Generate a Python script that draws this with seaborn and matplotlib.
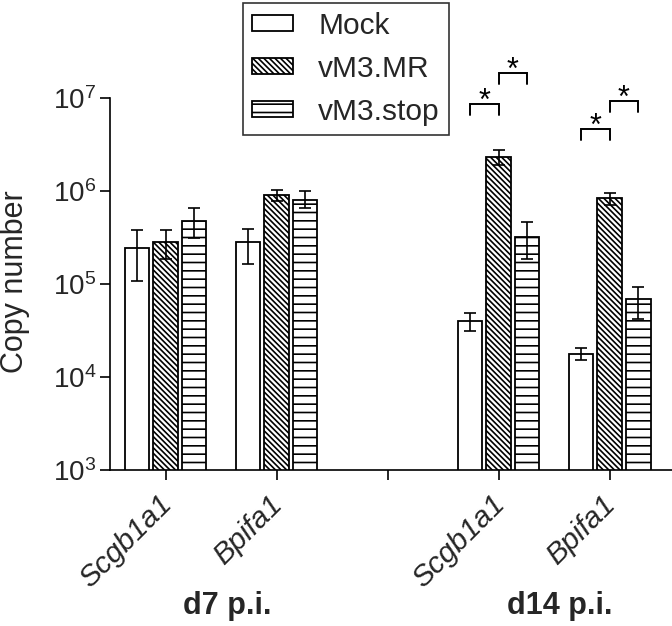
import numpy as np
import pandas as pd
import matplotlib
matplotlib.use("Agg")
import matplotlib.pyplot as plt
import matplotlib.transforms as mtransforms
from matplotlib.container import BarContainer
import seaborn as sns

# ---------------- data ----------------
categories = ["d7_Scgb1a1", "d7_Bpifa1", "gap", "d14_Scgb1a1", "d14_Bpifa1"]
tick_labels = ["Scgb1a1", "Bpifa1", "", "Scgb1a1", "Bpifa1"]
data_cats = ["d7_Scgb1a1", "d7_Bpifa1", "d14_Scgb1a1", "d14_Bpifa1"]
groups = ["Mock", "vM3.MR", "vM3.stop"]

mock = [2.44e5, 2.8e5, 4.0e4, 1.77e4]
mock_lo = [1.07e5, 1.64e5, 3.1e4, 1.52e4]
mock_hi = [3.8e5, 3.9e5, 4.9e4, 2.05e4]

mr = [2.8e5, 9.06e5, 2.32e6, 8.4e5]
mr_lo = [1.87e5, 7.9e5, 1.9e6, 7.1e5]
mr_hi = [3.8e5, 1.02e6, 2.75e6, 9.5e5]

stop = [4.8e5, 8.1e5, 3.2e5, 6.9e4]
stop_lo = [3.1e5, 6.6e5, 1.87e5, 4.2e4]
stop_hi = [6.5e5, 1.0e6, 4.6e5, 9.3e4]

# significance brackets: (category, from group, to group, leg value, top value)
bracket_cats = ["d14_Scgb1a1", "d14_Scgb1a1", "d14_Bpifa1", "d14_Bpifa1"]
bracket_from = ["Mock", "vM3.MR", "Mock", "vM3.MR"]
bracket_to = ["vM3.MR", "vM3.stop", "vM3.MR", "vM3.stop"]
bracket_leg = [6.56e6, 1.41e7, 3.53e6, 7.08e6]
bracket_top = [8.6e6, 1.86e7, 4.65e6, 9.3e6]

group_labels = ["d7 p.i.", "d14 p.i."]
group_centers = [0.56, 3.55]

# ---------------- style ----------------
sns.set_theme(style="ticks")
plt.rcParams["font.family"] = ["Liberation Sans", "DejaVu Sans"]
plt.rcParams["hatch.linewidth"] = 1.2
plt.rcParams["hatch.color"] = "black"

FS = 21.5

df = pd.DataFrame({
    "cat": data_cats * 3,
    "group": np.repeat(groups, 4),
    "value": mock + mr + stop,
})

fig = plt.figure(figsize=(6.72, 6.26), dpi=100)
ax = fig.add_axes([110 / 672, 1 - 470 / 626, 1 - 110 / 672, 470 / 626])
ax.set_yscale("log")

sns.barplot(data=df, x="cat", y="value", hue="group", order=categories,
            hue_order=groups, errorbar=None, width=0.783, gap=0.17,
            palette=["white"] * 3, edgecolor="black", linewidth=1.3,
            legend=False, ax=ax)

bar_containers = [c for c in ax.containers if isinstance(c, BarContainer)]

hatches = ["", "\\\\\\\\\\\\", "--"]
lows = [mock_lo, mr_lo, stop_lo]
highs = [mock_hi, mr_hi, stop_hi]
vals = [mock, mr, stop]
centers = {}
for gi, cont in enumerate(bar_containers):
    xs = []
    for p in cont.patches:
        p.set_hatch(hatches[gi])
        p.set_facecolor("white")
        p.set_edgecolor("black")
        xs.append(p.get_x() + p.get_width() / 2)
    xs = np.array(xs)
    v = np.array(vals[gi])
    lo = np.array(lows[gi])
    hi = np.array(highs[gi])
    ax.errorbar(xs, v, yerr=[v - lo, hi - v], fmt="none", ecolor="black",
                elinewidth=1.2, capsize=4.5, capthick=1.2, zorder=5)
    for c, x in zip(data_cats, xs):
        centers[(c, groups[gi])] = x

# brackets
for c, g1, g2, leg, top in zip(bracket_cats, bracket_from, bracket_to, bracket_leg, bracket_top):
    x1 = centers[(c, g1)]
    x2 = centers[(c, g2)]
    ax.plot([x1, x1, x2, x2], [leg, top, top, leg], color="black", lw=1.4,
            solid_joinstyle="miter", clip_on=False)
    ax.annotate("*", xy=((x1 + x2) / 2, top), xytext=(0, -4.5),
                textcoords="offset points", ha="center", va="baseline",
                fontsize=22, color="black")

ax.set_xlim(-0.5, 4.563)
ax.set_ylim(1e3, 10 ** (3 + 470 / 93))
ax.set_yticks([1e3, 1e4, 1e5, 1e6, 1e7])
ax.yaxis.set_minor_locator(matplotlib.ticker.NullLocator())
ax.set_xticks(range(len(categories)))
ax.set_xticklabels([""] * len(categories))

# rotated italic category labels under the ticks
xl_trans = (mtransforms.blended_transform_factory(ax.transData, ax.transAxes)
            + mtransforms.ScaledTranslation(-8 / 100, -20 / 100, fig.dpi_scale_trans))
for i, lab in enumerate(tick_labels):
    if lab:
        ax.text(i, 0, lab, transform=xl_trans, rotation=45, ha="right", va="top",
                rotation_mode="anchor", fontstyle="italic", fontsize=FS)

ax.tick_params(axis="y", labelsize=FS - 1.5, length=7, width=1.2, pad=3, color="black")
ax.tick_params(axis="x", length=7, width=1.2, pad=2, color="black")
ax.set_xlabel("")
ax.set_ylabel("")
fig.text(15 / 672, 1 - 282 / 626, "Copy number", rotation=90, ha="center",
         va="center", fontsize=22)

for s in ["top", "right"]:
    ax.spines[s].set_visible(False)
ax.spines["left"].set_bounds(1e3, 1e7)
for s in ["left", "bottom"]:
    ax.spines[s].set_linewidth(1.2)
    ax.spines[s].set_color("black")

trans = mtransforms.blended_transform_factory(ax.transData, fig.transFigure)
for lab, xc in zip(group_labels, group_centers):
    ax.text(xc, 1 - 606 / 626, lab, transform=trans, ha="center", va="center",
            fontsize=22, fontweight="bold")

leg = fig.legend(handles=bar_containers, labels=groups, loc="upper left",
                 bbox_to_anchor=(243 / 672, 1 - 3 / 626), fontsize=FS,
                 frameon=True, fancybox=False, handlelength=1.38, handleheight=0.45,
                 handletextpad=0.84, labelspacing=0.5, borderpad=0.3,
                 borderaxespad=0)
leg.get_frame().set_edgecolor("black")
leg.get_frame().set_linewidth(1.2)

fig.savefig("out.png", dpi=100)
